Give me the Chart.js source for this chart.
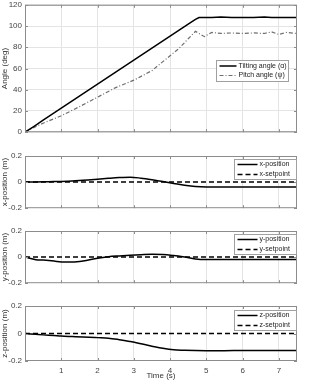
<!DOCTYPE html>
<html>
<head>
<meta charset="utf-8">
<script src="https://cdn.jsdelivr.net/npm/chart.js@4.4.1/dist/chart.umd.min.js"></script>
<style>
  html, body { margin: 0; padding: 0; background: #fff; }
  #wrap { position: relative; width: 313px; height: 385px; overflow: hidden; }
  canvas { position: absolute; left: 0; }
</style>
</head>
<body>
<div id="wrap">
  <canvas id="angleChart" width="313" height="143" style="top:-3px"></canvas>
  <canvas id="xChart" width="313" height="70" style="top:146px"></canvas>
  <canvas id="yChart" width="313" height="70" style="top:221px"></canvas>
  <canvas id="zChart" width="313" height="89" style="top:296px"></canvas>
</div>
<script>
// data
const timeTicks = [1, 2, 3, 4, 5, 6, 7];
const angleTicks = [0, 20, 40, 60, 80, 100, 120];
const posTicks = [-0.2, 0, 0.2];

const tAngle = [0, 0.25, 0.5, 1, 1.5, 2, 2.5, 3, 3.5, 4, 4.25, 4.5, 4.7, 4.8, 4.95, 5.15, 5.4, 5.7, 6, 6.3, 6.6, 6.8, 7, 7.2, 7.5];
const tilting = [0, 5.6, 11.3, 22.6, 33.9, 45.2, 56.5, 67.8, 79.1, 90.4, 96.1, 101.7, 106.2, 108, 108, 108, 108.5, 108, 108, 108, 108.5, 108, 108, 108, 108];
const pitch = [0, 4.5, 8.5, 15.5, 24, 33, 42, 49, 58, 72, 79, 88, 95, 93, 90, 94, 93, 93.5, 93, 93.5, 93, 94.5, 92, 94, 93];

const tPos = [0, 0.3, 0.5, 0.8, 1, 1.3, 1.6, 2, 2.3, 2.6, 2.9, 3.2, 3.5, 3.8, 4.1, 4.4, 4.7, 5, 5.5, 6, 6.5, 7, 7.5];
const xPos = [0, 0.001, 0.002, 0.004, 0.005, 0.008, 0.014, 0.022, 0.029, 0.035, 0.038, 0.03, 0.018, 0.004, -0.01, -0.024, -0.034, -0.037, -0.037, -0.037, -0.037, -0.037, -0.037];
const yPos = [0, -0.02, -0.023, -0.03, -0.037, -0.038, -0.03, -0.008, 0.003, 0.009, 0.014, 0.018, 0.021, 0.02, 0.012, 0, -0.014, -0.018, -0.018, -0.018, -0.018, -0.018, -0.018];
const zPos = [0, -0.006, -0.01, -0.015, -0.019, -0.022, -0.025, -0.03, -0.034, -0.045, -0.058, -0.075, -0.092, -0.108, -0.119, -0.122, -0.124, -0.125, -0.125, -0.123, -0.123, -0.123, -0.123];
const setpoint = [0, 0, 0, 0, 0, 0, 0, 0, 0, 0, 0, 0, 0, 0, 0, 0, 0, 0, 0, 0, 0, 0, 0];

Chart.defaults.font.family = '"Liberation Sans", Arial, sans-serif';
Chart.defaults.font.size = 8;
Chart.defaults.color = '#444';

function pts(xs, ys) {
    return xs.map(function(x, i) { return { x: x, y: ys[i] }; });
}

// box round the plot area with inward tick marks (matlab style)
const boxPlugin = {
    id: 'boxPlugin',
    afterDraw: function(chart) {
        const a = chart.chartArea;
        const ctx = chart.ctx;
        ctx.save();
        ctx.strokeStyle = '#8c8c8c';
        ctx.lineWidth = 1;
        ctx.strokeRect(a.left + 0.5, a.top + 0.5, a.right - a.left - 1, a.bottom - a.top - 1);
        ctx.beginPath();
        chart.scales.x.ticks.forEach(function(t) {
            const px = Math.round(chart.scales.x.getPixelForValue(t.value)) + 0.5;
            ctx.moveTo(px, a.bottom); ctx.lineTo(px, a.bottom - 3);
            ctx.moveTo(px, a.top); ctx.lineTo(px, a.top + 3);
        });
        chart.scales.y.ticks.forEach(function(t) {
            const py = Math.round(chart.scales.y.getPixelForValue(t.value)) + 0.5;
            ctx.moveTo(a.left, py); ctx.lineTo(a.left + 3, py);
            ctx.moveTo(a.right, py); ctx.lineTo(a.right - 3, py);
        });
        ctx.stroke();
        ctx.restore();
    }
};

// legend drawn inside the plot area
const inLegend = {
    id: 'inLegend',
    afterDraw: function(chart, args, opts) {
        if (!opts || !opts.width) return;
        const a = chart.chartArea;
        const ctx = chart.ctx;
        const x0 = Math.round(a.right - opts.right - opts.width) + 0.5;
        const y0 = Math.round(a.top + opts.top) + 0.5;
        ctx.save();
        ctx.fillStyle = '#fff';
        ctx.fillRect(x0, y0, opts.width, opts.height);
        ctx.strokeStyle = '#a0a0a0';
        ctx.lineWidth = 1;
        ctx.strokeRect(x0, y0, opts.width, opts.height);
        ctx.font = opts.fontSize + 'px "Liberation Sans", Arial, sans-serif';
        ctx.textBaseline = 'middle';
        chart.data.datasets.forEach(function(ds, i) {
            const y = y0 + opts.pad + i * opts.row;
            ctx.beginPath();
            ctx.strokeStyle = ds.borderColor;
            ctx.lineWidth = ds.borderWidth;
            ctx.setLineDash(ds.borderDash || []);
            ctx.moveTo(x0 + 3, y);
            ctx.lineTo(x0 + 3 + opts.sample, y);
            ctx.stroke();
            ctx.setLineDash([]);
            ctx.fillStyle = '#222';
            ctx.fillText(ds.label, x0 + opts.sample + 5, y);
        });
        ctx.restore();
    }
};

function makeChart(id, datasets, yConf, showTime, legend, padTop, xHeight) {
    return new Chart(document.getElementById(id), {
        type: 'line',
        data: { datasets: datasets },
        plugins: [boxPlugin, inLegend],
        options: {
            responsive: false,
            animation: false,
            devicePixelRatio: 1,
            layout: { padding: { top: padTop, right: 16, left: 0, bottom: 0 } },
            elements: { point: { radius: 0 } },
            plugins: {
                legend: { display: false },
                tooltip: { enabled: false },
                inLegend: legend
            },
            scales: {
                x: {
                    type: 'linear',
                    min: 0,
                    max: 7.5,
                    afterBuildTicks: function(s) { s.ticks = timeTicks.map(function(v) { return { value: v }; }); },
                    afterFit: function(s) { s.height = xHeight; },
                    border: { display: false },
                    grid: { color: '#e4e4e4', drawTicks: false },
                    ticks: { display: showTime, padding: 5, maxRotation: 0, color: '#444' },
                    title: { display: showTime, text: 'Time (s)', padding: { top: 0, bottom: 4 }, color: '#333', font: { size: 8 } }
                },
                y: {
                    min: yConf.min,
                    max: yConf.max,
                    afterBuildTicks: function(s) { s.ticks = yConf.ticks.map(function(v) { return { value: v }; }); },
                    afterFit: function(s) { s.width = 25; },
                    border: { display: false },
                    grid: { color: yConf.grid ? '#e4e4e4' : 'rgba(0,0,0,0)', drawTicks: false },
                    ticks: { padding: 3, color: '#444', callback: function(v) { return String(v); } },
                    title: { display: true, text: yConf.title, padding: { top: 0, bottom: 2 }, color: '#333', font: { size: 8 } }
                }
            }
        }
    });
}

const solid = { borderColor: '#000', borderWidth: 1.5, fill: false };
const dashed = { borderColor: '#000', borderWidth: 1.5, borderDash: [5, 3], fill: false };
const smallLegend = { width: 62, height: 20, right: 1, top: 3, pad: 5, row: 10, sample: 20, fontSize: 7 };

makeChart('angleChart', [
    Object.assign({ label: 'Tilting angle (\u03b1)', data: pts(tAngle, tilting) }, solid),
    { label: 'Pitch angle (\u03c8)', data: pts(tAngle, pitch), borderColor: '#6e6e6e', borderWidth: 1.2, borderDash: [4, 2, 1, 2], fill: false }
], { min: 0, max: 120, ticks: angleTicks, title: 'Angle (deg)', grid: true }, false,
   { width: 72, height: 21, right: 9, top: 55, pad: 5.5, row: 9.5, sample: 17, fontSize: 7 }, 2, 6);

makeChart('xChart', [
    Object.assign({ label: 'x-position', data: pts(tPos, xPos), cubicInterpolationMode: 'monotone' }, solid),
    Object.assign({ label: 'x-setpoint', data: pts(tPos, setpoint) }, dashed)
], { min: -0.2, max: 0.2, ticks: posTicks, title: 'x-position (m)', grid: false }, false, smallLegend, 10, 4);

makeChart('yChart', [
    Object.assign({ label: 'y-position', data: pts(tPos, yPos), cubicInterpolationMode: 'monotone' }, solid),
    Object.assign({ label: 'y-setpoint', data: pts(tPos, setpoint) }, dashed)
], { min: -0.2, max: 0.2, ticks: posTicks, title: 'y-position (m)', grid: false }, false, smallLegend, 10, 4);

makeChart('zChart', [
    Object.assign({ label: 'z-position', data: pts(tPos, zPos), cubicInterpolationMode: 'monotone' }, solid),
    Object.assign({ label: 'z-setpoint', data: pts(tPos, setpoint) }, dashed)
], { min: -0.2, max: 0.2, ticks: posTicks, title: 'z-position (m)', grid: false }, true,
   Object.assign({}, smallLegend, { top: 4 }), 10, 24);
</script>
</body>
</html>
